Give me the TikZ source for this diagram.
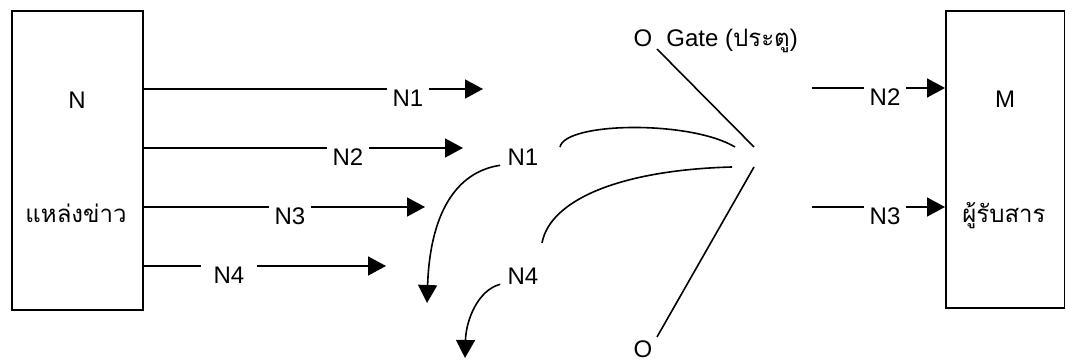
\documentclass[tikz,border=0pt]{standalone}
\usepackage{fontspec}
\setmainfont{Liberation Sans}
\newfontfamily\thaifont[Script=Thai]{Loma}
\usetikzlibrary{arrows.meta}

\begin{document}
\begin{tikzpicture}[x=0.5pt,y=-0.5pt,line width=0.8pt,
  font=\fontsize{12}{14}\selectfont,
  flow/.style={-{Triangle[length=9pt,width=9.5pt]}},
  tag/.style={fill=white,inner xsep=3pt,inner ysep=1pt}]
  \useasboundingbox (0,0) rectangle (1065,362);

  % source
  \node[draw,anchor=north west,minimum width=65.5pt,minimum height=149.5pt] (src) at (11,10) {};
  \node (srcN) at (77,100) {N};
  \node[anchor=base] (srcT) at (76,223) {\thaifont แหล่งข่าว};

  % messages from the source
  \coordinate (t1) at (483,89);
  \coordinate (t2) at (463,148);
  \coordinate (t3) at (425,207);
  \coordinate (t4) at (386,266);
  \draw[flow] (src.east |- t1) -- (t1);
  \draw[flow] (src.east |- t2) -- (t2);
  \draw[flow] (src.east |- t3) -- (t3);
  \draw[flow] (src.east |- t4) -- (t4);
  \node[tag] (n1) at (408,98) {N1};
  \node[tag] (n2) at (348,157) {N2};
  \node[tag] (n3) at (290,216) {N3};
  \node[tag,inner xsep=6.5pt] (n4) at (229,275) {N4};

  % rejected messages
  \node (m1) at (523,157) {N1};
  \node (m4) at (523,276) {N4};
  \coordinate (d1) at (427,303);
  \coordinate (d4) at (465,358);
  \draw[flow] (m1.200) .. controls (455,172) and (430,215) .. (d1);
  \draw[flow] (m4.200) .. controls (478,290) and (466,320) .. (d4);

  % gate
  \node (gO1) at (643,38) {O};
  \node[anchor=base west] (gate) at (659,47) {Gate ({\thaifont ประตู})};
  \node (gO2) at (643,349) {O};
  \coordinate (gtop) at (657,49);
  \coordinate (gmid1) at (754,147);
  \coordinate (gmid2) at (754,167);
  \coordinate (gbot) at (657,337);
  \draw (gtop) -- (gmid1);
  \draw (gmid2) -- (gbot);
  \coordinate (a1s) at (560,147);
  \coordinate (a1e) at (735,147);
  \coordinate (a4s) at (542,243);
  \coordinate (a4e) at (732,167);
  \draw (a1s) .. controls (565,122) and (690,120) .. (a1e);
  \draw (a4s) .. controls (550,200) and (620,170) .. (a4e);

  % receiver
  \node[draw,anchor=north west,minimum width=59.25pt,minimum height=148.5pt] (dst) at (945,10) {};
  \node (dstM) at (1005,99) {M};
  \node[anchor=base] (dstT) at (1004,223) {\thaifont ผู้รับสาร};
  \coordinate (r2) at (812,88);
  \coordinate (r3) at (812,207);
  \draw[flow] (r2) -- (dst.west |- r2);
  \draw[flow] (r3) -- (dst.west |- r3);
  \node[tag] (o2) at (885,97) {N2};
  \node[tag] (o3) at (885,216) {N3};
\end{tikzpicture}
\end{document}
